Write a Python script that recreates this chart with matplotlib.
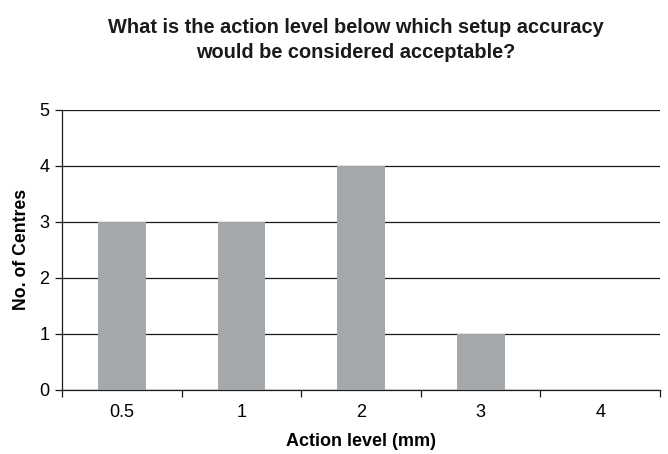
import numpy as np
import matplotlib.pyplot as plt

# survey answers: number of centres per action level
levels = ["0.5", "1", "2", "3", "4"]
centres = [3, 3, 4, 1, 0]
yticks = [0, 1, 2, 3, 4, 5]

plt.rcParams['font.family'] = ['Liberation Sans', 'DejaVu Sans']

fig = plt.figure(figsize=(6.68, 4.54), dpi=100)
ax = fig.add_axes([0.093, 0.141, 0.895, 0.617])

x = np.arange(len(levels))
ax.bar(x, centres, width=0.4, color='#a5a8aa', zorder=3)

ax.set_xlim(-0.5, len(levels) - 0.5)
ax.set_ylim(0, 5)
ax.set_yticks(yticks)
ax.yaxis.grid(True, color='#1a1a1a', linewidth=0.9, zorder=0)

# category labels centred, tick marks on the boundaries
ax.set_xticks(x)
ax.set_xticklabels(levels)
ax.tick_params(axis='x', length=0, labelsize=13, pad=10)
ax.set_xticks(np.arange(-0.5, len(levels)), minor=True)
ax.tick_params(axis='x', which='minor', length=5, width=0.9, color='#1a1a1a')
ax.tick_params(axis='y', length=5, width=0.9, labelsize=13, pad=4, color='#1a1a1a')

for s in ['top', 'right']:
    ax.spines[s].set_visible(False)
for s in ['left', 'bottom']:
    ax.spines[s].set_color('#1a1a1a')
    ax.spines[s].set_linewidth(0.9)

ax.set_xlabel('Action level (mm)', fontsize=13, fontweight='bold', labelpad=9)
ax.set_ylabel('No. of Centres', fontsize=12.7, fontweight='bold', labelpad=7)

fig.text(0.533, 0.912, 'What is the action level below which setup accuracy\nwould be considered acceptable?',
         ha='center', va='center', fontsize=14.4, fontweight='bold', linespacing=1.45,
         color='#1a1a1a')

fig.savefig('out.png', dpi=100)
